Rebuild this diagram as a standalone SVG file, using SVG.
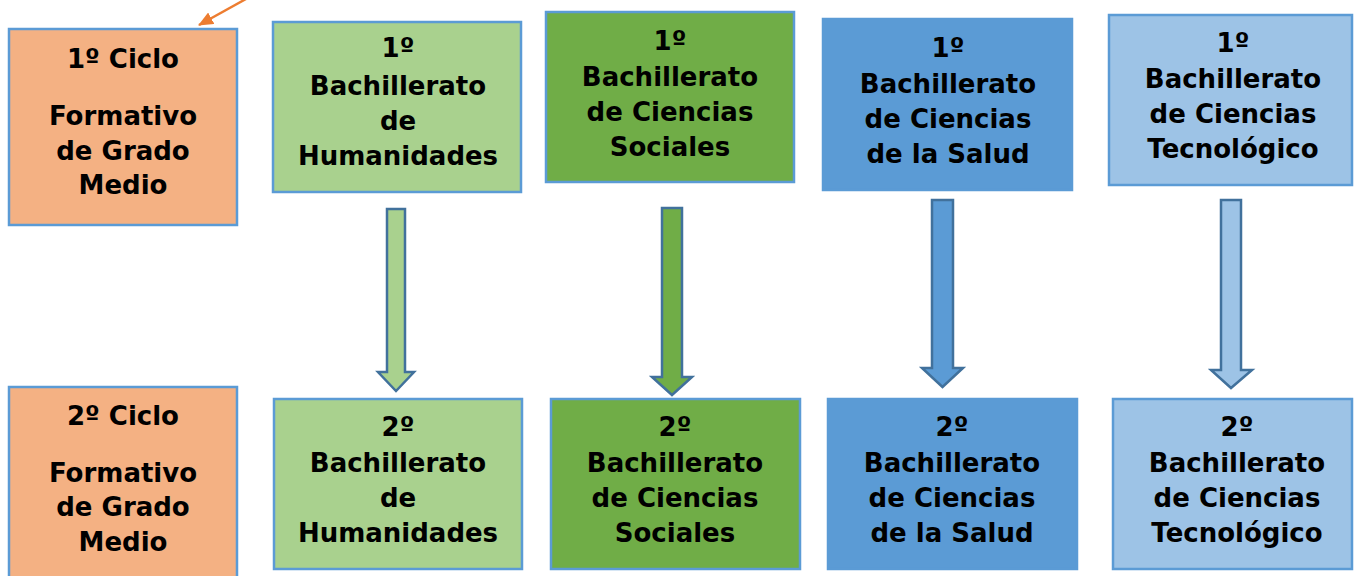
<svg xmlns="http://www.w3.org/2000/svg" width="1354" height="576" viewBox="0 0 1354 576">
<defs>
<style>
.box{stroke:#5B9BD5;stroke-width:2.5}
.t{font-family:"DejaVu Sans",Verdana,sans-serif;font-weight:bold;font-size:26px;fill:#000;text-anchor:middle}
.arr{stroke:#41719C;stroke-width:2.5;stroke-linejoin:miter}
.orange{fill:#F4B183}.lg{fill:#A9D18E}.g{fill:#70AD47}.b{fill:#5B9BD5}.lb{fill:#9DC3E6}
</style>
<marker id="oh" markerWidth="15" markerHeight="13" refX="14" refY="6.5" orient="auto" markerUnits="userSpaceOnUse" viewBox="0 0 15 13">
<path d="M0,0 L15,6.5 L0,13 z" fill="#ED7D31"/>
</marker>
</defs>
<rect width="1354" height="576" fill="#fff"/>
<g id="connectors">
<line x1="246" y1="-1" x2="199" y2="25" stroke="#ED7D31" stroke-width="2.5" marker-end="url(#oh)"/>
<path class="arr lg" d="M387,209 H405 V372 H414 L396,391 L378,372 H387 Z"/>
<path class="arr g" d="M662,208 H682 V377 H692 L672,395 L652,377 H662 Z"/>
<path class="arr b" d="M932,200 H953 V368 H963 L942.5,387 L922,368 H932 Z"/>
<path class="arr lb" d="M1221,200 H1241 V370 H1252 L1231,388 L1211,370 H1221 Z"/>
</g>
<g id="ciclo1">
<rect class="box orange" x="9" y="29" width="228" height="196"/>
<text class="t" x="123" y="68">1º Ciclo</text>
<text class="t" x="123" y="125">Formativo</text>
<text class="t" x="123" y="160">de Grado</text>
<text class="t" x="123" y="194">Medio</text>
</g>
<g id="hum1">
<rect class="box lg" x="273" y="22" width="248" height="170"/>
<text class="t" x="398" y="57">1º</text>
<text class="t" x="398" y="95">Bachillerato</text>
<text class="t" x="398" y="130">de</text>
<text class="t" x="398" y="165">Humanidades</text>
</g>
<g id="soc1">
<rect class="box g" x="546" y="12" width="248" height="170"/>
<text class="t" x="670" y="50">1º</text>
<text class="t" x="670" y="86">Bachillerato</text>
<text class="t" x="670" y="121">de Ciencias</text>
<text class="t" x="670" y="156">Sociales</text>
</g>
<g id="sal1">
<rect class="box b" x="823" y="19" width="249" height="171"/>
<text class="t" x="948" y="57">1º</text>
<text class="t" x="948" y="93">Bachillerato</text>
<text class="t" x="948" y="128">de Ciencias</text>
<text class="t" x="948" y="163">de la Salud</text>
</g>
<g id="tec1">
<rect class="box lb" x="1109" y="15" width="243" height="170"/>
<text class="t" x="1233" y="52">1º</text>
<text class="t" x="1233" y="88">Bachillerato</text>
<text class="t" x="1233" y="123">de Ciencias</text>
<text class="t" x="1233" y="158">Tecnológico</text>
</g>
<g id="ciclo2">
<rect class="box orange" x="9" y="387" width="228" height="200"/>
<text class="t" x="123" y="425">2º Ciclo</text>
<text class="t" x="123" y="482">Formativo</text>
<text class="t" x="123" y="516">de Grado</text>
<text class="t" x="123" y="551">Medio</text>
</g>
<g id="hum2">
<rect class="box lg" x="274" y="399" width="248" height="170"/>
<text class="t" x="398" y="436">2º</text>
<text class="t" x="398" y="472">Bachillerato</text>
<text class="t" x="398" y="507">de</text>
<text class="t" x="398" y="542">Humanidades</text>
</g>
<g id="soc2">
<rect class="box g" x="551" y="399" width="249" height="170"/>
<text class="t" x="675" y="436">2º</text>
<text class="t" x="675" y="472">Bachillerato</text>
<text class="t" x="675" y="507">de Ciencias</text>
<text class="t" x="675" y="542">Sociales</text>
</g>
<g id="sal2">
<rect class="box b" x="828" y="399" width="249" height="170"/>
<text class="t" x="952" y="436">2º</text>
<text class="t" x="952" y="472">Bachillerato</text>
<text class="t" x="952" y="507">de Ciencias</text>
<text class="t" x="952" y="542">de la Salud</text>
</g>
<g id="tec2">
<rect class="box lb" x="1113" y="399" width="239" height="170"/>
<text class="t" x="1237" y="436">2º</text>
<text class="t" x="1237" y="472">Bachillerato</text>
<text class="t" x="1237" y="507">de Ciencias</text>
<text class="t" x="1237" y="542">Tecnológico</text>
</g>
</svg>
